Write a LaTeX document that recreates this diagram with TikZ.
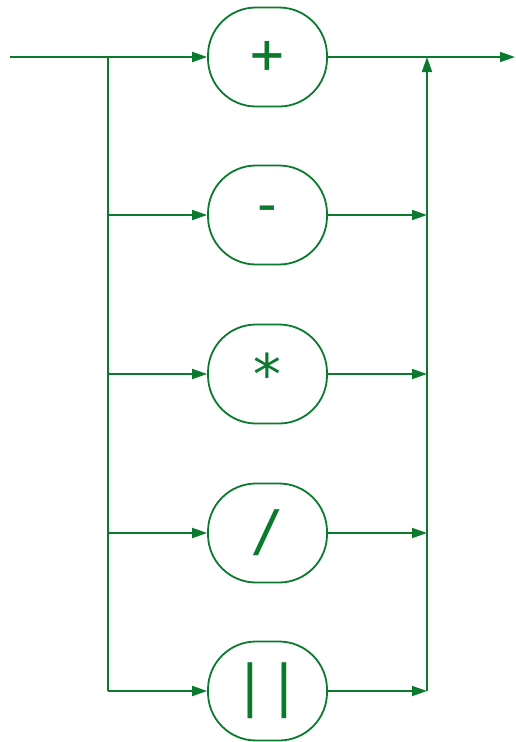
\documentclass[tikz,border=0pt]{standalone}
\usepackage{fontspec}
\newfontfamily\opfont{DejaVu Sans Mono}
\usetikzlibrary{arrows.meta}
\definecolor{railgreen}{RGB}{12,122,46}

\begin{document}
\begin{tikzpicture}[x=1pt,y=-1pt]
    \useasboundingbox (0,0) rectangle (515,742);
    \begin{scope}[every node/.style={draw=railgreen,line width=1.8pt,
                  rounded corners=48pt,minimum width=119pt,minimum height=99pt,
                  inner sep=0pt,text=railgreen,
                  font=\opfont\fontsize{56}{56}\selectfont}]
        \node (plus)  at (267.5,57)  {+};
        \node (minus) at (267.5,215) {-};
        \node (times) at (267.5,374) {*};
        \node (div)   at (267.5,533) {/};
        \node (bars)  at (267.5,691) {|\kern0pt|};
    \end{scope}

    % split points on the left, merge points on the right
    \coordinate (in)  at (10,57);
    \coordinate (out) at (515,57);
    \coordinate (l1) at (108,57);  \coordinate (r1) at (427,57);
    \coordinate (l2) at (108,215); \coordinate (r2) at (427,215);
    \coordinate (l3) at (108,374); \coordinate (r3) at (427,374);
    \coordinate (l4) at (108,533); \coordinate (r4) at (427,533);
    \coordinate (l5) at (108,691); \coordinate (r5) at (427,691);

    \begin{scope}[>={Triangle[length=15pt,width=10pt]},
                  every edge/.style={draw=railgreen,line width=1.8pt}]
        \path [->] (in) edge (plus);
        \path [->] (plus) edge (out);
        \path [-]  (l1) edge (l5);
        \path [->] (r5) edge (r1);
        \path [->] (l2) edge (minus);
        \path [->] (l3) edge (times);
        \path [->] (l4) edge (div);
        \path [->] (l5) edge (bars);
        \path [->] (minus) edge (r2);
        \path [->] (times) edge (r3);
        \path [->] (div)   edge (r4);
        \path [->] (bars)  edge (r5);
    \end{scope}
\end{tikzpicture}
\end{document}
